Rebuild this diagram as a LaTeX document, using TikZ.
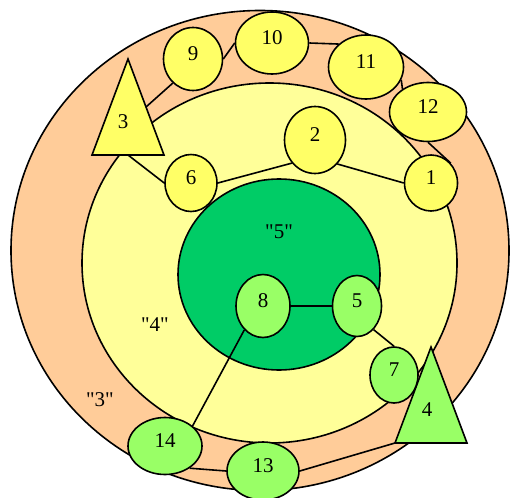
\documentclass[tikz,border=0pt]{standalone}
\usepackage{fontspec}
\newfontfamily\labelfont{Liberation Serif}
\usetikzlibrary{shapes.geometric}
\definecolor{peach}{HTML}{FFCC99}
\definecolor{paleyellow}{HTML}{FFFF99}
\definecolor{darkgreen}{HTML}{00CC66}
\definecolor{nodeyellow}{HTML}{FFFF66}
\definecolor{nodegreen}{HTML}{99FF66}
\begin{document}
\begin{tikzpicture}[x=1pt,y=-1pt,line width=1.6pt,
  basenode/.style={draw, ellipse, inner sep=0pt, text depth=10pt, font=\labelfont\fontsize{21}{24}\selectfont},
  yn/.style={basenode, fill=nodeyellow},
  gn/.style={basenode, fill=nodegreen},
  lbl/.style={font=\labelfont\fontsize{21}{24}\selectfont, inner sep=0pt},
  conn/.style={draw, line width=1.6pt}]
\useasboundingbox (0,0) rectangle (510,497);
% rings
\draw[fill=peach] (260,250.5) ellipse [x radius=249, y radius=240];
\draw[fill=paleyellow] (269.5,263) ellipse [x radius=187.5, y radius=180];
\draw[fill=darkgreen] (279,274.5) ellipse [x radius=101, y radius=95.5];
% region labels
\node[lbl] (r5) at (279,232) {"5"};
\node[lbl] (r4) at (155,325) {"4"};
\node[lbl] (r3) at (100,400) {"3"};
% triangles
\coordinate (t3apex) at (128,59);
\coordinate (t3left) at (92,155);
\coordinate (t3right) at (164,155);
\draw[fill=nodeyellow] (t3apex) -- (t3left) -- (t3right) -- cycle;
\node[lbl] (t3) at (123,122) {3};
\coordinate (t3side) at (146,107);
\coordinate (t3base) at (128,155);
\coordinate (t4apex) at (431,347);
\coordinate (t4left) at (395,443);
\coordinate (t4right) at (467,443);
\draw[fill=nodegreen] (t4apex) -- (t4left) -- (t4right) -- cycle;
\node[lbl] (t4) at (427,410) {4};
% nodes
\node[yn, minimum width=59pt, minimum height=63pt] (n9) at (193,59) {9};
\node[yn, minimum width=73pt, minimum height=62pt] (n10) at (272,43) {10};
\node[yn, minimum width=75pt, minimum height=64pt] (n11) at (366,67) {11};
\node[yn, minimum width=77pt, minimum height=59pt] (n12) at (428,112) {12};
\node[yn, minimum width=53pt, minimum height=56pt] (n1) at (431,183) {1};
\node[yn, minimum width=61pt, minimum height=67pt] (n2) at (315,140) {2};
\node[yn, minimum width=52pt, minimum height=57pt] (n6) at (191,183) {6};
\node[gn, minimum width=49pt, minimum height=61pt] (n5) at (357,306) {5};
\node[gn, minimum width=54pt, minimum height=63pt] (n8) at (263,306) {8};
\node[gn, minimum width=48pt, minimum height=56pt] (n7) at (394,375) {7};
\node[gn, minimum width=74pt, minimum height=57pt] (n14) at (165,446) {14};
\node[gn, minimum width=72pt, minimum height=58pt] (n13) at (263,471) {13};
% connectors
\draw[conn] (t3side) -- (n9.-130);
\draw[conn] (t3base) -- (n6.west);
\draw[conn] (n9.east) -- (n10.west);
\draw[conn] (n10.east) -- (n11.140);
\draw[conn] (n11.-20) -- (n12.138);
\draw[conn] (n12.south) -- (n1.45);
\draw[conn] (n6.east) -- (n2.-135);
\draw[conn] (n2.-47) -- (n1.west);
\draw[conn] (n8.east) -- (n5.west);
\draw[conn] (n5.-55) -- (n7.north);
\draw[conn] (n8.-128) -- (n14.36);
\draw[conn] (n14.-42) -- (n13.west);
\draw[conn] (n13.east) -- (t4left);
\end{tikzpicture}
\end{document}
